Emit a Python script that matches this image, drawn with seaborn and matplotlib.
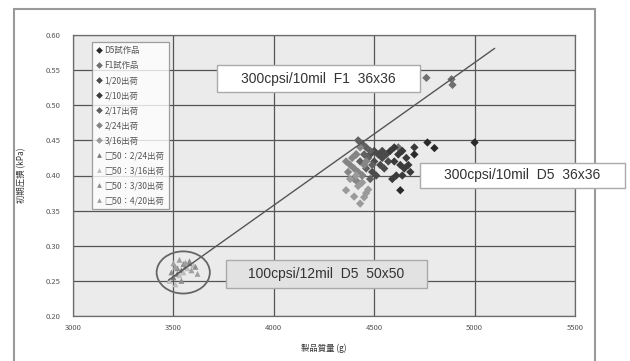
import matplotlib
matplotlib.use("Agg")
import matplotlib.pyplot as plt
from matplotlib.patches import Rectangle, Ellipse
from matplotlib.ticker import MultipleLocator
import seaborn as sns
import pandas as pd

# ---------------- data ----------------
series_names = ["D5試作品", "F1試作品", "1/20出荷", "2/10出荷", "2/17出荷", "2/24出荷", "3/16出荷",
                "□50：2/24出荷", "□50：3/16出荷", "□50：3/30出荷", "□50：4/20出荷"]

d5_x = [4765, 4800, 5000, 4630, 4700]
d5_y = [0.447, 0.439, 0.447, 0.379, 0.430]
f1_x = [4760, 4885, 4890, 4620]
f1_y = [0.539, 0.537, 0.529, 0.440]
s0120_x = [4480, 4500, 4520, 4540, 4560, 4500, 4530, 4550, 4490, 4510, 4570, 4540]
s0120_y = [0.430, 0.435, 0.430, 0.425, 0.430, 0.420, 0.415, 0.410, 0.405, 0.400, 0.420, 0.435]
s0210_x = [4580, 4600, 4620, 4640, 4660, 4600, 4630, 4650, 4680, 4610, 4590, 4640, 4670, 4700]
s0210_y = [0.435, 0.440, 0.430, 0.435, 0.425, 0.420, 0.415, 0.410, 0.405, 0.400, 0.395, 0.400, 0.415, 0.440]
s0217_x = [4420, 4440, 4460, 4480, 4450, 4470, 4430, 4490, 4460, 4440, 4480, 4410]
s0217_y = [0.450, 0.445, 0.440, 0.435, 0.430, 0.425, 0.420, 0.415, 0.410, 0.400, 0.395, 0.430]
s0224_x = [4360, 4380, 4400, 4420, 4440, 4390, 4410, 4430, 4370, 4450, 4400, 4420, 4460]
s0224_y = [0.420, 0.415, 0.410, 0.405, 0.400, 0.425, 0.430, 0.440, 0.405, 0.415, 0.395, 0.390, 0.420]
s0316_x = [4360, 4400, 4430, 4450, 4470, 4420, 4380, 4440, 4410, 4460]
s0316_y = [0.379, 0.370, 0.360, 0.369, 0.380, 0.385, 0.395, 0.390, 0.400, 0.375]
t0224_x = [3500, 3520, 3540, 3560, 3580]
t0224_y = [0.255, 0.260, 0.265, 0.270, 0.275]
t0316_x = [3480, 3510, 3530, 3550, 3570, 3600]
t0316_y = [0.250, 0.245, 0.258, 0.262, 0.268, 0.272]
t0330_x = [3490, 3520, 3550, 3580, 3610, 3540]
t0330_y = [0.262, 0.268, 0.274, 0.278, 0.270, 0.250]
t0420_x = [3500, 3530, 3560, 3590, 3620, 3510]
t0420_y = [0.275, 0.280, 0.276, 0.265, 0.260, 0.270]

trend_x = [3475, 5100]
trend_y = [0.251, 0.581]

ellipse_center = (3549, 0.262)
ellipse_size = (265, 0.060)

x_ticks = [3000, 3500, 4000, 4500, 5000, 5500]
y_ticks = [0.20, 0.25, 0.30, 0.35, 0.40, 0.45, 0.50, 0.55, 0.60]

xs = [d5_x, f1_x, s0120_x, s0210_x, s0217_x, s0224_x, s0316_x, t0224_x, t0316_x, t0330_x, t0420_x]
ys = [d5_y, f1_y, s0120_y, s0210_y, s0217_y, s0224_y, s0316_y, t0224_y, t0316_y, t0330_y, t0420_y]

rows = []
for name, xx, yy in zip(series_names, xs, ys):
    for a, b in zip(xx, yy):
        rows.append({"series": name, "mass": a, "dp": b})
df = pd.DataFrame(rows)

colors = ["#2a2a2a", "#707070", "#4a4a4a", "#3a3a3a", "#606060", "#858585", "#9a9a9a",
          "#777777", "#bdbdbd", "#8c8c8c", "#a0a0a0"]
palette = dict(zip(series_names, colors))
markers = dict(zip(series_names, ["D"] * 7 + ["^"] * 4))

# ---------------- figure ----------------
sns.set_style("white")
plt.rcParams["font.family"] = ["Noto Sans CJK JP", "DejaVu Sans"]

fig = plt.figure(figsize=(6.3, 3.61), dpi=100)
W, H = 630, 361

def fx(px):
    return px / W

def fy(py):
    return 1 - py / H

# outer frame
fig.patches.append(Rectangle((fx(14), fy(365)), fx(595) - fx(14), fy(9) - fy(365),
                             transform=fig.transFigure, fill=False, edgecolor="#9a9a9a", lw=1.5))

ax = fig.add_axes([fx(73), fy(316), fx(575) - fx(73), fy(35) - fy(316)])
ax.set_facecolor("#ebebeb")

sns.scatterplot(data=df, x="mass", y="dp", hue="series", style="series",
                palette=palette, markers=markers, hue_order=series_names,
                style_order=series_names, s=18, linewidth=0, ax=ax, zorder=3)

ax.plot(trend_x, trend_y, color="#555555", lw=1.0, zorder=4)
ax.add_patch(Ellipse(ellipse_center, ellipse_size[0], ellipse_size[1], fill=False,
                     edgecolor="#666666", lw=1.3, zorder=5))

ax.set_xlim(3000, 5500)
ax.set_ylim(0.20, 0.60)
ax.set_xticks(x_ticks)
ax.set_yticks(y_ticks)
ax.set_xticklabels([str(v) for v in x_ticks])
ax.set_yticklabels([f"{v:.2f}" for v in y_ticks])
ax.xaxis.set_minor_locator(MultipleLocator(100))
ax.yaxis.set_minor_locator(MultipleLocator(0.01))
ax.grid(True, which="major", color="#555555", lw=0.9, zorder=1)
ax.set_axisbelow(True)
ax.tick_params(axis="both", which="major", direction="in", length=3, width=0.8,
               color="#666666", labelsize=5.5, labelcolor="#555555")
ax.tick_params(axis="both", which="minor", direction="in", length=2, width=0.6, color="#666666")
ax.tick_params(axis="x", pad=6)
ax.tick_params(axis="y", pad=9)
for sp in ax.spines.values():
    sp.set_color("#6a6a6a")
    sp.set_linewidth(0.9)

ax.set_xlabel("製品質量 (g)", fontsize=6, color="#333333", labelpad=8)
ax.set_ylabel("初期圧損 (kPa)", fontsize=6, color="#333333", labelpad=14)

leg = ax.legend(loc="upper left", bbox_to_anchor=(fx(92), fy(42)), bbox_transform=fig.transFigure,
                fontsize=6.0, frameon=True, fancybox=False, edgecolor="#888888",
                labelspacing=0.72, handlelength=0.6, handletextpad=0.4, borderpad=0.5,
                borderaxespad=0, markerscale=0.8)
leg.get_frame().set_linewidth(0.9)
for t in leg.get_texts():
    t.set_color("#555555")
leg.set_zorder(6)

# annotation boxes
boxes = [
    ("300cpsi/10mil  F1  36x36", 217, 65, 420, 92, "white"),
    ("300cpsi/10mil  D5  36x36", 420, 163, 625, 188, "white"),
    ("100cpsi/12mil  D5  50x50", 226, 260, 427, 288, "#e2e2e2"),
]
for txt, x0, y0, x1, y1, fc in boxes:
    fig.patches.append(Rectangle((fx(x0), fy(y1)), fx(x1) - fx(x0), fy(y0) - fy(y1),
                                 transform=fig.transFigure, facecolor=fc,
                                 edgecolor="#aaaaaa", lw=1.0, zorder=10))
    fig.text(fx((x0 + x1) / 2), fy((y0 + y1) / 2), txt, ha="center", va="center",
             fontsize=10, color="#333333", family=["Liberation Sans", "DejaVu Sans"], zorder=11)

fig.savefig("out.png", dpi=100, facecolor="white")
